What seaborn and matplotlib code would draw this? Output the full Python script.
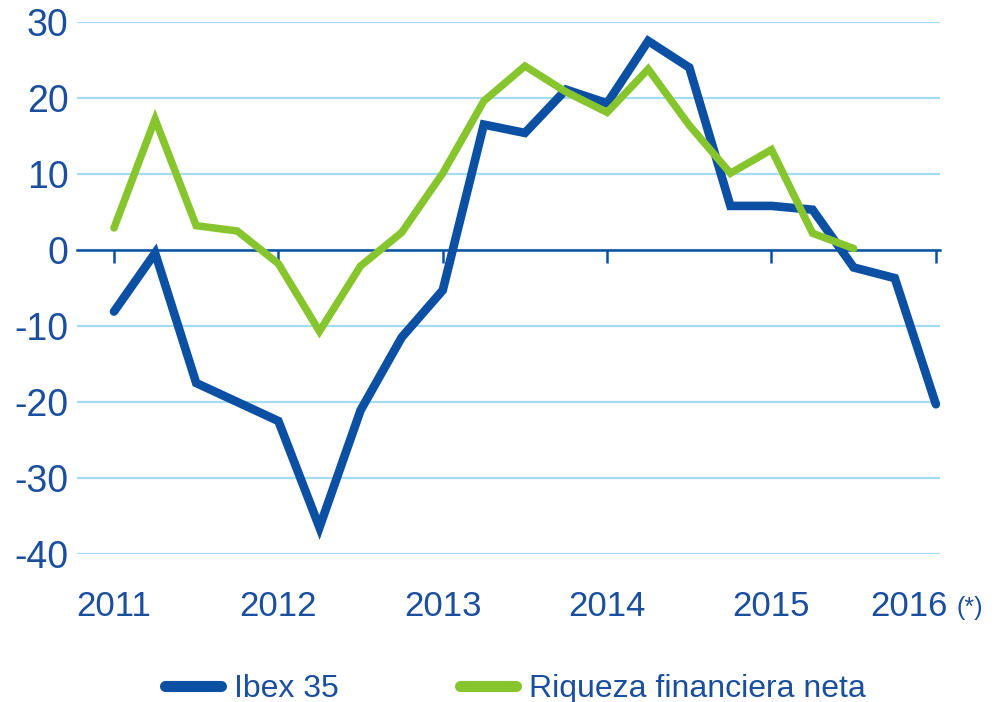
import matplotlib

matplotlib.use("Agg")
import matplotlib.pyplot as plt
import matplotlib.transforms as mtransforms
import pandas as pd
import seaborn as sns

# quarterly year-on-year change (%), 2011 Q1 .. 2016 Q1
ibex_35 = [-8.1, -0.4, -17.5, -20.0, -22.5, -36.5, -21.1, -11.5, -5.3, 16.5, 15.4,
           21.1, 19.3, 27.5, 24.0, 5.8, 5.8, 5.3, -2.3, -3.7, -20.3]
riqueza = [2.9, 17.2, 3.2, 2.5, -1.8, -10.7, -2.1, 2.3, 10.1, 19.6, 24.2,
           20.8, 18.1, 23.8, 16.4, 10.1, 13.2, 2.2, 0.2]
years = ["2011", "2012", "2013", "2014", "2015", "2016"]
y_ticks = [-40, -30, -20, -10, 0, 10, 20, 30]
series_names = ["Ibex 35", "Riqueza financiera neta"]

BLUE = "#0b50a2"
GREEN = "#87c52f"
GRID = "#a6dcf2"
TEXT = "#1b4f9e"

df = pd.concat([
    pd.DataFrame({"q": range(len(ibex_35)), "value": ibex_35, "serie": series_names[0]}),
    pd.DataFrame({"q": range(len(riqueza)), "value": riqueza, "serie": series_names[1]}),
])

sns.set_theme(style="white")
plt.rcParams["font.family"] = ["Liberation Sans", "DejaVu Sans"]
plt.rcParams["axes.unicode_minus"] = False

fig = plt.figure(figsize=(9.95, 7.02), dpi=100)
ax = fig.add_axes([0.0774, 0.2108, 0.8673, 0.7579])

sns.lineplot(data=df, x="q", y="value", hue="serie", hue_order=series_names,
             palette=[BLUE, GREEN], ax=ax, legend=False, sort=False,
             solid_capstyle="round", solid_joinstyle="miter")
ax.lines[0].set_linewidth(6.2)
ax.lines[1].set_linewidth(5.4)
ax.lines[0].set_zorder(3)
ax.lines[1].set_zorder(4)

ax.set_xlim(-0.9, 20.1)
ax.set_ylim(-40, 30)
ax.set_xlabel("")
ax.set_ylabel("")

# horizontal grid
ax.set_yticks(y_ticks, labels=[str(v) for v in y_ticks])
ax.yaxis.grid(True, color=GRID, linewidth=1.6)
ax.xaxis.grid(False)
ax.tick_params(axis="y", length=0, pad=6, labelsize=27, labelcolor=TEXT)

# zero axis line with year ticks
for side in ["left", "right", "top"]:
    ax.spines[side].set_visible(False)
ax.spines["bottom"].set_position(("data", 0))
ax.spines["bottom"].set_color(BLUE)
ax.spines["bottom"].set_linewidth(1.8)
ax.spines["bottom"].set_zorder(2)
ax.set_xticks(range(0, len(ibex_35), 4))
ax.tick_params(axis="x", direction="out", length=9, width=1.8, color=BLUE,
               labelbottom=False, bottom=True)

# year labels below the plot
sec = ax.secondary_xaxis("bottom")
sec.set_xticks(range(0, len(ibex_35), 4), labels=years)
sec.tick_params(length=0, pad=26, labelsize=25, labelcolor=TEXT)
sec.spines["bottom"].set_visible(False)

# "2016 (*)" is centred as a whole under its tick
last = sec.xaxis.get_major_ticks()[-1].label1
shift = mtransforms.ScaledTranslation(-0.27, 0, fig.dpi_scale_trans)
last.set_transform(last.get_transform() + shift)
fig.text(957 / 995, 1 - 608 / 702, "(*)", fontsize=18, color=TEXT, ha="left", va="center")

handles = [plt.Line2D([], [], color=BLUE, lw=8, solid_capstyle="round"),
           plt.Line2D([], [], color=GREEN, lw=8, solid_capstyle="round")]
fig.legend(handles, series_names, loc="center", bbox_to_anchor=(0.518, 1 - 689 / 702),
           ncol=2, frameon=False, fontsize=23, labelcolor=TEXT, handlelength=1.75,
           handletextpad=0.4, columnspacing=3.8, borderpad=0)

fig.savefig("out.png", dpi=100)
